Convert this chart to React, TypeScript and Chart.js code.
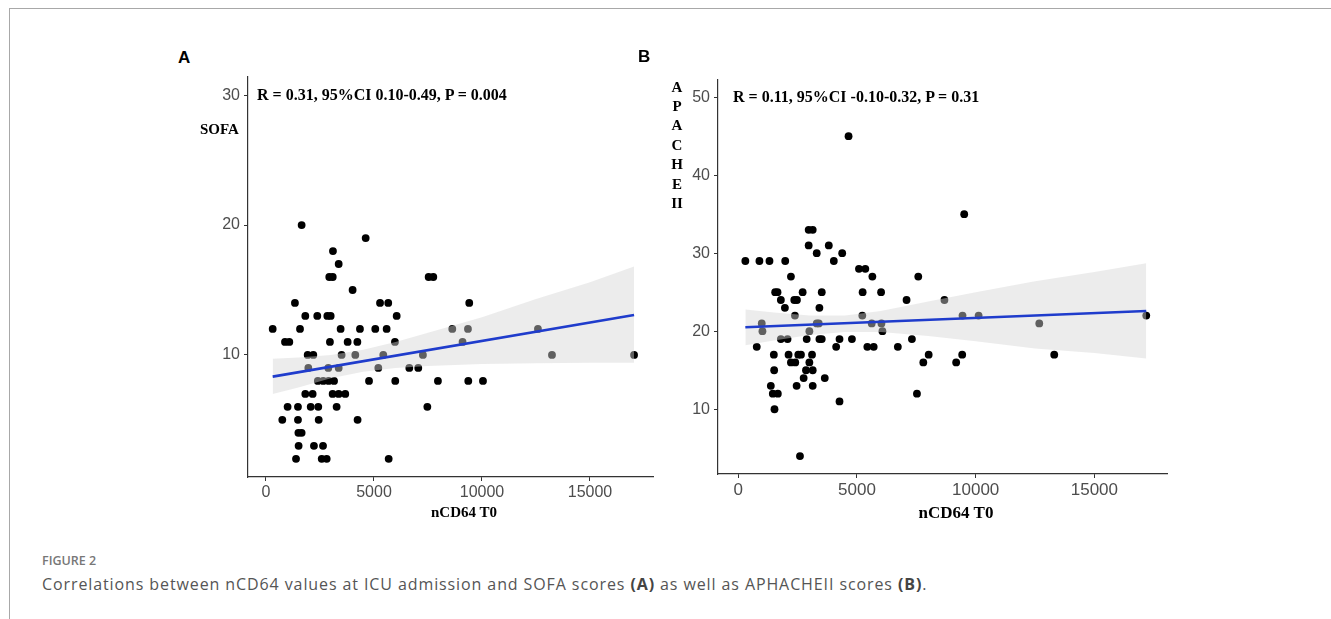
import React, { useEffect, useRef } from "react";
import { Chart, registerables } from "chart.js";
Chart.register(...registerables);

// ---------- data ----------
const xTicks = [0, 5000, 10000, 15000];
const sofaTicks = [10, 20, 30];
const apacheTicks = [10, 20, 30, 40, 50];

// Panel A: nCD64 T0 vs SOFA
const sofaX = [
  1650, 4615, 3100, 3365,
  2930, 3090, 7530, 7745,
  4010,
  1340, 5280, 5660, 9410,
  1820, 2375, 2840, 2995, 6050,
  310, 1575, 3455, 4350, 5060, 5585, 8625, 9350, 12590,
  880, 1080, 2960, 3780, 4230, 5970, 9100,
  1930, 2190, 3500, 4135, 5430, 7265, 13240, 17040,
  1960, 2885, 3365, 5200, 6635, 7050,
  2400, 2650, 2900, 3150, 4770, 5985, 7960, 9365, 10045,
  1820, 2160, 3085, 3365, 3670,
  1000, 1480, 2070, 2420, 3270, 7470,
  755, 1480, 2440, 4240,
  1500, 1650,
  1510, 2220, 2640,
  1390, 2580, 2810, 5680,
];
const sofaY = [
  20, 19, 18, 17,
  16, 16, 16, 16,
  15,
  14, 14, 14, 14,
  13, 13, 13, 13, 13,
  12, 12, 12, 12, 12, 12, 12, 12, 12,
  11, 11, 11, 11, 11, 11, 11,
  10, 10, 10, 10, 10, 10, 10, 10,
  9, 9, 9, 9, 9, 9,
  8, 8, 8, 8, 8, 8, 8, 8, 8,
  7, 7, 7, 7, 7,
  6, 6, 6, 6, 6, 6,
  5, 5, 5, 5,
  4, 4,
  3, 3, 3,
  2, 2, 2, 2,
];
const sofaFitX = [310, 17040];
const sofaFitY = [8.33, 13.08];
const sofaBandX = [310, 1500, 3000, 4500, 6000, 7500, 10000, 12500, 15000, 17040];
const sofaBandLow = [7.0, 7.5, 8.2, 8.7, 9.0, 9.15, 9.3, 9.35, 9.4, 9.4];
const sofaBandHigh = [9.7, 9.8, 10.0, 10.4, 11.0, 11.7, 12.9, 14.3, 15.6, 16.8];

// Panel B: nCD64 T0 vs APACHE II
const apacheX = [
  4645,
  9517,
  2965, 3135,
  2965, 3812,
  3304, 4377,
  297, 890, 1313, 1977, 4024,
  5083, 5351,
  2217, 5648, 7582,
  1553, 1652, 2711, 3516, 5238, 6015,
  1793, 2358, 2471, 7088, 8684,
  1963, 3417,
  2386, 5224, 9446, 10124, 17186,
  988, 3304, 3390, 5620, 6030, 12679,
  1017, 2994, 6072,
  1793, 2075, 2881, 3417, 3516, 4264, 4787, 7314,
  777, 4123, 5436, 5704, 6721,
  1497, 2118, 2527, 2640, 3106, 8020, 9432, 13310,
  2217, 2400, 2994, 7794, 9178,
  1511, 2852, 3135,
  2753, 3643,
  1370, 2457, 3135,
  1454, 1666, 7526,
  4264,
  1525,
  2598,
];
const apacheY = [
  45,
  35,
  33, 33,
  31, 31,
  30, 30,
  29, 29, 29, 29, 29,
  28, 28,
  27, 27, 27,
  25, 25, 25, 25, 25, 25,
  24, 24, 24, 24, 24,
  23, 23,
  22, 22, 22, 22, 22,
  21, 21, 21, 21, 21, 21,
  20, 20, 20,
  19, 19, 19, 19, 19, 19, 19, 19,
  18, 18, 18, 18, 18,
  17, 17, 17, 17, 17, 17, 17, 17,
  16, 16, 16, 16, 16,
  15, 15, 15,
  14, 14,
  13, 13, 13,
  12, 12, 12,
  11,
  10,
  4,
];
const apacheFitX = [297, 17186];
const apacheFitY = [20.5, 22.6];
const apacheBandX = [297, 1500, 3000, 4500, 6000, 8000, 10000, 12500, 15000, 17186];
const apacheBandLow = [18.2, 18.8, 19.5, 19.9, 19.9, 19.4, 18.7, 17.8, 17.2, 16.5];
const apacheBandHigh = [22.8, 22.4, 22.0, 22.0, 22.6, 23.8, 25.0, 26.4, 27.6, 28.7];

const apacheLetters = ["A", "P", "A", "C", "H", "E", "II"];

// ---------- chart panel ----------
type PanelProps = {
  xs: number[]; ys: number[];
  fitX: number[]; fitY: number[];
  bandX: number[]; bandLow: number[]; bandHigh: number[];
  xMin: number; xMax: number; yMin: number; yMax: number;
  yTicks: number[];
  xTickSize: number; yTickSize: number;
  left: number; top: number; plotW: number; plotH: number;
};

const PAD_TOP = 20, PAD_RIGHT = 20, Y_AXIS_W = 48, X_AXIS_H = 30;

function Panel(p: PanelProps) {
  const ref = useRef<HTMLCanvasElement | null>(null);
  useEffect(() => {
    if (!ref.current) return;
    const pts = p.xs.map((x, i) => ({ x, y: p.ys[i] }));
    const low = p.bandX.map((x, i) => ({ x, y: p.bandLow[i] }));
    const high = p.bandX.map((x, i) => ({ x, y: p.bandHigh[i] }));
    const fit = p.fitX.map((x, i) => ({ x, y: p.fitY[i] }));
    const axisColor = "#333333";
    const tickFont = (size: number) => ({ family: "'Liberation Sans', Arial, sans-serif", size });
    const chart = new Chart(ref.current, {
      type: "scatter",
      data: {
        datasets: [
          {
            type: "scatter",
            data: pts,
            pointRadius: 3.9,
            pointBackgroundColor: "#000000",
            pointBorderWidth: 0,
            order: 3,
          } as any,
          {
            type: "line",
            data: low,
            borderWidth: 0,
            pointRadius: 0,
            fill: false,
            order: 2,
          } as any,
          {
            type: "line",
            data: high,
            borderWidth: 0,
            pointRadius: 0,
            fill: "-1",
            backgroundColor: "rgba(213,213,213,0.45)",
            order: 2,
          } as any,
          {
            type: "line",
            data: fit,
            borderColor: "#1f3ccc",
            borderWidth: 2.6,
            pointRadius: 0,
            fill: false,
            order: 1,
          } as any,
        ],
      },
      options: {
        animation: false,
        responsive: false,
        maintainAspectRatio: false,
        layout: { padding: { top: PAD_TOP, right: PAD_RIGHT, left: 0, bottom: 0 } },
        plugins: { legend: { display: false }, tooltip: { enabled: false } },
        scales: {
          x: {
            type: "linear",
            min: p.xMin,
            max: p.xMax,
            afterBuildTicks: (s: any) => { s.ticks = xTicks.map((v) => ({ value: v })); },
            afterFit: (s: any) => { s.height = X_AXIS_H; },
            grid: { drawOnChartArea: false, drawTicks: true, tickLength: 4, color: axisColor, lineWidth: 1 },
            border: { display: true, color: axisColor, width: 1.2 },
            ticks: { font: tickFont(p.xTickSize), color: "#4d4d4d", padding: 2, maxRotation: 0, callback: (v: any) => String(v) },
          },
          y: {
            type: "linear",
            min: p.yMin,
            max: p.yMax,
            afterBuildTicks: (s: any) => { s.ticks = p.yTicks.map((v) => ({ value: v })); },
            afterFit: (s: any) => { s.width = Y_AXIS_W; },
            grid: { drawOnChartArea: false, drawTicks: true, tickLength: 4, color: axisColor, lineWidth: 1 },
            border: { display: true, color: axisColor, width: 1.2 },
            ticks: { font: tickFont(p.yTickSize), color: "#4d4d4d", padding: 4, callback: (v: any) => String(v) },
          },
        },
      } as any,
    });
    return () => chart.destroy();
  }, []);
  const w = Y_AXIS_W + p.plotW + PAD_RIGHT;
  const h = PAD_TOP + p.plotH + X_AXIS_H;
  return (
    <canvas
      ref={ref}
      width={w}
      height={h}
      style={{ position: "absolute", left: p.left - Y_AXIS_W, top: p.top - PAD_TOP, width: w, height: h }}
    />
  );
}

// ---------- text helpers ----------
const serifBold = "'Liberation Serif', 'Times New Roman', serif";
const sansBold = "'Liberation Sans', Arial, sans-serif";

function Txt(props: { x: number; cy: number; size: number; family: string; weight?: number | string; color?: string; center?: boolean; spacing?: number; children: React.ReactNode }) {
  const lh = Math.round(props.size * 1.4);
  return (
    <div
      style={{
        position: "absolute",
        left: props.center ? props.x - 200 : props.x,
        width: props.center ? 400 : undefined,
        textAlign: props.center ? "center" : "left",
        top: props.cy - lh / 2,
        lineHeight: lh + "px",
        fontSize: props.size,
        fontFamily: props.family,
        fontWeight: props.weight ?? "bold",
        color: props.color ?? "#000",
        letterSpacing: props.spacing ?? 0,
        whiteSpace: "nowrap",
        zIndex: 2,
        pointerEvents: "none",
      }}
    >
      {props.children}
    </div>
  );
}

export default function App() {
  return (
    <div style={{ position: "absolute", left: 0, top: 0, width: 1331, height: 619, overflow: "hidden", background: "#fff" }}>
      {/* page frame lines */}
      <div style={{ position: "absolute", left: 9, top: 8, right: 0, height: 1, background: "#a8a8a8" }} />
      <div style={{ position: "absolute", left: 9, top: 8, bottom: 0, width: 1, background: "#a8a8a8" }} />

      <Panel
        xs={sofaX} ys={sofaY}
        fitX={sofaFitX} fitY={sofaFitY}
        bandX={sofaBandX} bandLow={sofaBandLow} bandHigh={sofaBandHigh}
        xMin={-833} xMax={17917} yMin={0.6} yMax={31.4}
        yTicks={sofaTicks}
        xTickSize={16} yTickSize={16}
        left={248} top={77} plotW={405} plotH={400}
      />
      <Panel
        xs={apacheX} ys={apacheY}
        fitX={apacheFitX} fitY={apacheFitY}
        bandX={apacheBandX} bandLow={apacheBandLow} bandHigh={apacheBandHigh}
        xMin={-855} xMax={18060} yMin={1.7} yMax={52.2}
        yTicks={apacheTicks}
        xTickSize={17} yTickSize={16}
        left={718} top={80} plotW={449} plotH={394}
      />

      {/* panel letters */}
      <Txt x={178} cy={58} size={17} family={sansBold}>A</Txt>
      <Txt x={638} cy={57} size={17} family={sansBold}>B</Txt>

      {/* annotations */}
      <Txt x={257} cy={95} size={16} family={serifBold}>R = 0.31, 95%CI 0.10-0.49, P = 0.004</Txt>
      <Txt x={733} cy={97} size={16} family={serifBold}>R = 0.11, 95%CI -0.10-0.32, P = 0.31</Txt>

      {/* y titles */}
      <Txt x={200} cy={129} size={15} family={serifBold}>SOFA</Txt>
      {apacheLetters.map((l, i) => (
        <Txt key={i} x={677} cy={87 + i * 19.4} size={15} family={serifBold} center>{l}</Txt>
      ))}

      {/* x titles */}
      <Txt x={464} cy={512} size={15} family={serifBold} center>nCD64 T0</Txt>
      <Txt x={956} cy={513} size={17} family={serifBold} center>nCD64 T0</Txt>

      {/* caption */}
      <Txt x={42} cy={561} size={12.5} family={"'Open Sans', sans-serif"} weight={600} color="#777">FIGURE 2</Txt>
      <Txt x={42} cy={584} size={16} spacing={0.9} family={"'Open Sans', sans-serif"} weight={400} color="#555">
        Correlations between nCD64 values at ICU admission and SOFA scores <span style={{ fontWeight: 700, color: "#444" }}>(A)</span> as well as APHACHEII scores <span style={{ fontWeight: 700, color: "#444" }}>(B)</span>.
      </Txt>
    </div>
  );
}
